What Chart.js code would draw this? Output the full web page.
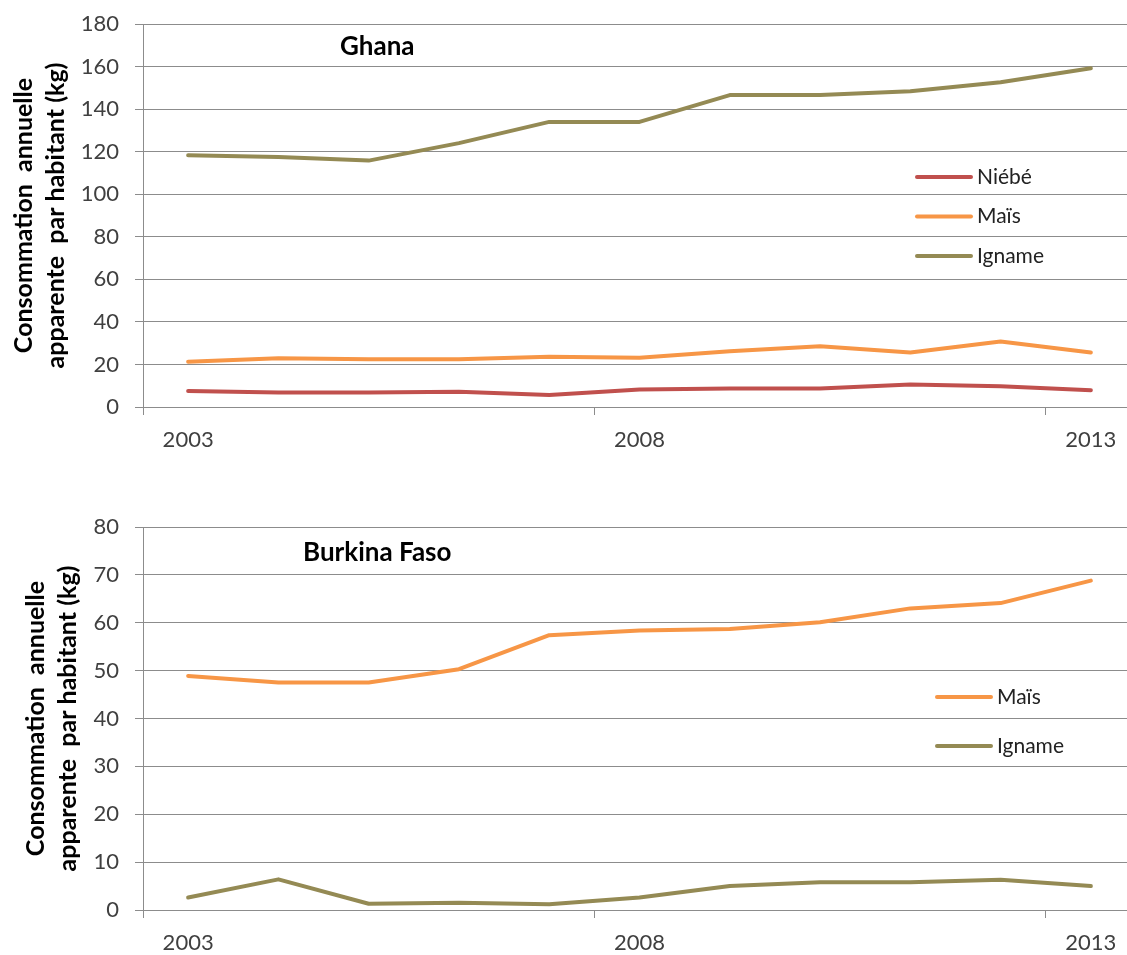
<!DOCTYPE html>
<html>
<head>
<meta charset="utf-8">
<script src="https://cdn.jsdelivr.net/npm/chart.js@4.4.1/dist/chart.umd.min.js"></script>
<style>
  html, body { margin: 0; padding: 0; background: #fff; overflow: hidden; }
  #wrap1 { position: absolute; left: 0; top: 0; }
  #wrap2 { position: absolute; left: 0; top: 480px; }
</style>
</head>
<body>
<div id="wrap1"><canvas id="ghana" width="1140" height="470"></canvas></div>
<div id="wrap2"><canvas id="burkina" width="1140" height="475"></canvas></div>
<script>
// Consommation annuelle apparente par habitant (kg), 2003-2013
const years = ['2003', '2004', '2005', '2006', '2007', '2008', '2009', '2010', '2011', '2012', '2013']

const ghanaNiebe = [7.5, 6.8, 6.8, 7.2, 5.6, 8.2, 8.7, 8.7, 10.6, 9.8, 7.9]
const ghanaMais = [21.3, 22.9, 22.4, 22.4, 23.6, 23.2, 26.2, 28.6, 25.6, 30.8, 25.6]
const ghanaIgname = [118.3, 117.5, 115.8, 124, 134, 134, 146.6, 146.6, 148.4, 152.6, 159.2]

const burkinaMais = [48.9, 47.5, 47.5, 50.3, 57.4, 58.4, 58.7, 60.1, 63, 64.1, 68.8]
const burkinaIgname = [2.6, 6.4, 1.3, 1.5, 1.2, 2.6, 5, 5.8, 5.8, 6.3, 5]

const ghanaTicks = [0, 20, 40, 60, 80, 100, 120, 140, 160, 180]
const burkinaTicks = [0, 10, 20, 30, 40, 50, 60, 70, 80]

const colNiebe = '#C0504D'
const colMais = '#F79646'
const colIgname = '#948A54'
const gridCol = '#8c8c8c'
const textCol = '#404040'
const fontFam = 'Lato, "Liberation Sans", sans-serif'

// titre + legende dessines dans la zone du graphique
const insidePlugin = {
  id: 'inside',
  afterDraw(chart, args, opts) {
    const ctx = chart.ctx
    const area = chart.chartArea
    ctx.save()
    ctx.fillStyle = '#000'
    ctx.font = 'bold 26px ' + fontFam
    ctx.textBaseline = 'middle'
    ctx.textAlign = 'left'
    ctx.fillText(opts.title, area.left + opts.titleX, area.top + opts.titleY)

    ctx.font = '21px ' + fontFam
    chart.data.datasets.forEach((ds, i) => {
      const y = area.top + opts.legendY + i * opts.legendGap
      const x = area.left + opts.legendX
      ctx.strokeStyle = ds.borderColor
      ctx.lineWidth = 4
      ctx.lineCap = 'round'
      ctx.beginPath()
      ctx.moveTo(x, y)
      ctx.lineTo(x + 54, y)
      ctx.stroke()
      ctx.fillStyle = '#222'
      ctx.fillText(ds.label, x + 60, y)
    })
    ctx.restore()
  }
}

function makeDataset(label, data, color) {
  return {
    label: label,
    data: data,
    borderColor: color,
    backgroundColor: color,
    borderWidth: 4,
    pointRadius: 0,
    tension: 0,
    borderCapStyle: 'round',
    borderJoinStyle: 'round',
  }
}

function makeOptions(yMax, yStep, yTicks, padTop, xHeight, titleOpts) {
  return {
    responsive: false,
    animation: false,
    layout: { padding: { top: padTop, left: 0, right: 4, bottom: 0 } },
    plugins: {
      legend: { display: false },
      tooltip: { enabled: false },
      inside: titleOpts,
    },
    scales: {
      x: {
        type: 'category',
        offset: true,
        afterFit: s => { s.height = xHeight },
        grid: {
          offset: true,
          drawOnChartArea: false,
          drawTicks: true,
          tickLength: 8,
          color: c => (c.index % 5 === 0 ? gridCol : 'rgba(0,0,0,0)'),
        },
        border: { display: true, color: gridCol },
        ticks: {
          autoSkip: false,
          maxRotation: 0,
          padding: 12,
          color: textCol,
          font: { family: fontFam, size: 22 },
          callback: (v, i) => (i % 5 === 0 ? years[i] : ''),
        },
      },
      y: {
        min: 0,
        max: yMax,
        afterFit: s => { s.width = 143; s.paddingTop = 0; s.paddingBottom = 0 },
        afterBuildTicks: s => { s.ticks = yTicks.map(v => ({ value: v })) },
        grid: { color: gridCol, tickLength: 8 },
        border: { display: true, color: gridCol },
        ticks: {
          stepSize: yStep,
          padding: 16,
          color: textCol,
          font: { family: fontFam, size: 22 },
        },
        title: {
          display: true,
          text: ['Consommation  annuelle', 'apparente  par habitant (kg)'],
          color: '#000',
          font: { family: fontFam, size: 25, weight: 'bold', lineHeight: 1.28 },
          padding: { top: titleOpts.axisTitlePad, bottom: 0 },
        },
      },
    },
  }
}

new Chart(document.getElementById('ghana'), {
  type: 'line',
  data: {
    labels: years,
    datasets: [
      makeDataset('Niébé', ghanaNiebe, colNiebe),
      makeDataset('Maïs', ghanaMais, colMais),
      makeDataset('Igname', ghanaIgname, colIgname),
    ],
  },
  options: makeOptions(180, 20, ghanaTicks, 24, 63, {
    title: 'Ghana', titleX: 197, titleY: 23,
    legendX: 774, legendY: 153, legendGap: 39.5, axisTitlePad: 8,
  }),
  plugins: [insidePlugin],
})

new Chart(document.getElementById('burkina'), {
  type: 'line',
  data: {
    labels: years,
    datasets: [
      makeDataset('Maïs', burkinaMais, colMais),
      makeDataset('Igname', burkinaIgname, colIgname),
    ],
  },
  options: makeOptions(80, 10, burkinaTicks, 47, 45, {
    title: 'Burkina Faso', titleX: 160, titleY: 26,
    legendX: 794, legendY: 170, legendGap: 49, axisTitlePad: 20,
  }),
  plugins: [insidePlugin],
})
</script>
</body>
</html>
